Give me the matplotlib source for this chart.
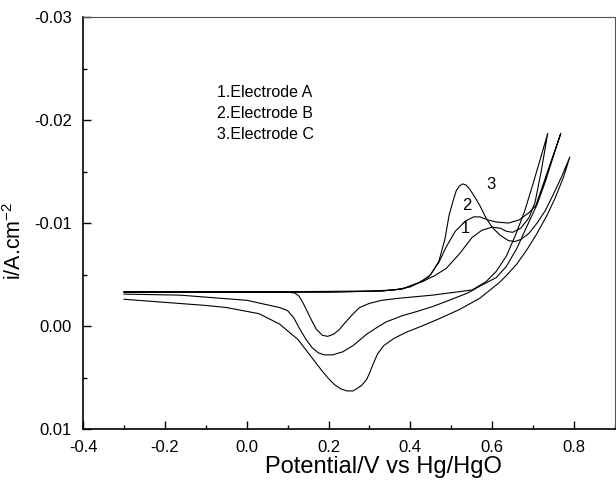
import numpy as np
import matplotlib.pyplot as plt
from matplotlib.ticker import MultipleLocator

plt.rcParams['font.family'] = ['Liberation Sans', 'DejaVu Sans']
plt.rcParams['mathtext.fontset'] = 'custom'
plt.rcParams['mathtext.rm'] = 'Liberation Sans'

# curve 1 - Electrode A (forward then reverse scan)
e1 = [-0.30, 0.00, 0.20, 0.33, 0.38, 0.429, 0.46, 0.488, 0.52, 0.551, 0.575, 0.60, 0.62, 0.635,
      0.65, 0.67, 0.69, 0.705, 0.72, 0.736,
      0.72, 0.70, 0.68, 0.659, 0.635, 0.61, 0.585, 0.551, 0.454, 0.373, 0.33, 0.30, 0.276, 0.258,
      0.24, 0.225, 0.212, 0.198, 0.185, 0.17, 0.158, 0.147, 0.137, 0.128, 0.118, 0.10, -0.30]
i1 = [-0.0033, -0.0033, -0.0033, -0.0034, -0.0036, -0.0043, -0.0049, -0.0056, -0.0070, -0.0086,
      -0.0093, -0.0096, -0.0095, -0.0092, -0.0091, -0.0095, -0.0105, -0.0120, -0.0150, -0.0187,
      -0.0165, -0.0138, -0.0112, -0.0090, -0.0068, -0.0053, -0.0043, -0.0035, -0.0030, -0.0027,
      -0.0025, -0.0022, -0.0018, -0.0011, -0.0003, 0.0004, 0.0008, 0.0010, 0.0009, 0.0003,
      -0.0006, -0.0015, -0.0023, -0.0029, -0.0032, -0.0033, -0.0033]

# curve 2 - Electrode B
e2 = [-0.30, 0.00, 0.20, 0.33, 0.38, 0.42, 0.446, 0.47, 0.488, 0.51, 0.535, 0.555, 0.57, 0.59,
      0.61, 0.64, 0.666, 0.69, 0.707, 0.72, 0.74, 0.768,
      0.75, 0.73, 0.71, 0.683, 0.66, 0.635, 0.61, 0.576, 0.54, 0.495, 0.455, 0.415, 0.38, 0.341,
      0.32, 0.293, 0.26, 0.235, 0.21, 0.19, 0.175, 0.16, 0.145, 0.13, 0.115, 0.10, 0.08, 0.00,
      -0.163, -0.30]
i2 = [-0.0033, -0.0033, -0.0033, -0.0034, -0.0036, -0.0042, -0.0048, -0.0062, -0.0077, -0.0092,
      -0.0102, -0.0106, -0.0106, -0.0103, -0.0101, -0.0100, -0.0103, -0.0110, -0.0117, -0.0132,
      -0.0155, -0.0187,
      -0.0165, -0.0140, -0.0118, -0.0095, -0.0075, -0.0058, -0.0047, -0.0040, -0.0032, -0.0025,
      -0.0019, -0.0014, -0.0010, -0.0004, 0.0001, 0.0008, 0.0019, 0.0025, 0.0028, 0.0028, 0.0026,
      0.0021, 0.0013, 0.0003, -0.0008, -0.0015, -0.0018, -0.0025, -0.0030, -0.0031]

# curve 3 - Electrode C
e3 = [-0.30, 0.00, 0.30, 0.36, 0.40, 0.43, 0.45, 0.47, 0.485, 0.495, 0.505, 0.512, 0.52, 0.528,
      0.536, 0.545, 0.555, 0.57, 0.585, 0.60, 0.62, 0.64, 0.655, 0.67, 0.69, 0.71, 0.73, 0.75,
      0.77, 0.79,
      0.775, 0.755, 0.735, 0.71, 0.685, 0.66, 0.635, 0.617, 0.57, 0.52, 0.47, 0.422, 0.39, 0.36,
      0.335, 0.32, 0.31, 0.30, 0.293, 0.28, 0.26, 0.245, 0.23, 0.215, 0.20, 0.185, 0.16, 0.125,
      0.08, 0.03, -0.05, -0.10, -0.20, -0.30]
i3 = [-0.0033, -0.0033, -0.0034, -0.0035, -0.0038, -0.0044, -0.0050, -0.0063, -0.0085, -0.0108,
      -0.0122, -0.0131, -0.0136, -0.0138, -0.0137, -0.0133, -0.0127, -0.0117, -0.0105, -0.0096,
      -0.0088, -0.0083, -0.0082, -0.0084, -0.0090, -0.0100, -0.0112, -0.0128, -0.0145, -0.0164,
      -0.0145, -0.0125, -0.0108, -0.0090, -0.0074, -0.0060, -0.0049, -0.0042, -0.0027, -0.0016,
      -0.0007, 0.0001, 0.0006, 0.0012, 0.0019, 0.0027, 0.0036, 0.0046, 0.0052, 0.0058, 0.0063,
      0.0063, 0.0061, 0.0057, 0.0051, 0.0044, 0.0031, 0.0013, -0.0002, -0.0012, -0.0018, -0.0020,
      -0.0023, -0.0026]

labels = ['1.Electrode A', '2.Electrode B', '3.Electrode C']
tags = ['1', '2', '3']
tag_x = [0.534, 0.539, 0.598]
tag_y = [-0.0095, -0.0117, -0.0137]

fig = plt.figure(figsize=(6.16, 4.87), dpi=100)
ax = fig.add_axes([0.135, 0.119, 0.863, 0.846])

for e, i in [(e1, i1), (e2, i2), (e3, i3)]:
    ax.plot(e, i, color='black', lw=0.8)

for k in range(3):
    ax.text(tag_x[k], tag_y[k], tags[k], fontsize=12, ha='center', va='center')

for k, lab in enumerate(labels):
    ax.text(-0.073, -0.0227 + 0.00205 * k, lab, fontsize=11.5, ha='left', va='center')

ax.set_xlim(-0.4, 0.9)
ax.set_ylim(0.01, -0.03)
ax.xaxis.set_minor_locator(MultipleLocator(0.1))
ax.yaxis.set_minor_locator(MultipleLocator(0.005))
ax.set_xticks([-0.4, -0.2, 0.0, 0.2, 0.4, 0.6, 0.8])
ax.set_xticklabels(['-0.4', '-0.2', '0.0', '0.2', '0.4', '0.6', '0.8'])
ax.set_yticks([-0.03, -0.02, -0.01, 0.0, 0.01])
ax.set_yticklabels(['-0.03', '-0.02', '-0.01', '0.00', '0.01'])
ax.tick_params(which='both', direction='in', top=False, right=False, labelsize=12, width=1.0)
ax.tick_params(which='major', length=6)
ax.tick_params(axis='x', which='major', pad=8)
ax.tick_params(axis='y', which='major', pad=8)
ax.tick_params(which='minor', length=3)

for s in ['left', 'bottom']:
    ax.spines[s].set_linewidth(1.2)
for s in ['top', 'right']:
    ax.spines[s].set_linewidth(0.8)
    ax.spines[s].set_color('#555555')

fig.text(383 / 616, 1 - 467 / 487, 'Potential/V vs Hg/HgO', fontsize=17, ha='center', va='center')
fig.text(15 / 616, 1 - 241 / 487, 'i/A.cm$^{-2}$', fontsize=15.5, ha='center', va='center',
         rotation=90)

fig.savefig('out.png', dpi=100)
